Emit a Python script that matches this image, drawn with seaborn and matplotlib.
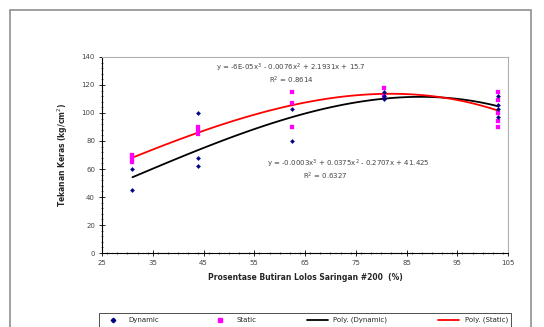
import matplotlib
matplotlib.use("Agg")
import matplotlib.pyplot as plt
from matplotlib.lines import Line2D
from matplotlib.patches import Rectangle
from matplotlib.ticker import MultipleLocator
import seaborn as sns
import pandas as pd

# data
dyn_x = [31, 31, 44, 44, 44, 62.5, 62.5, 80.5, 80.5, 80.5, 103, 103, 103, 103]
dyn_y = [60, 45, 100, 68, 62, 103, 80, 115, 112, 110, 112, 106, 103, 97]
sta_x = [31, 31, 31, 44, 44, 44, 62.5, 62.5, 62.5, 80.5, 80.5, 103, 103, 103, 103, 103]
sta_y = [70, 68, 65, 90, 87, 85, 115, 107, 90, 118, 112, 115, 109, 100, 94, 90]

x_ticks = [25, 35, 45, 55, 65, 75, 85, 95, 105]
y_ticks = [0, 20, 40, 60, 80, 100, 120, 140]

eq_static = "y = -6E-05x$^3$ - 0.0076x$^2$ + 2.1931x + 15.7"
r2_static = "R$^2$ = 0.8614"
eq_dynamic = "y = -0.0003x$^3$ + 0.0375x$^2$ - 0.2707x + 41.425"
r2_dynamic = "R$^2$ = 0.6327"

dyn = pd.DataFrame({"x": dyn_x, "y": dyn_y})
sta = pd.DataFrame({"x": sta_x, "y": sta_y})

sns.set_style("white")
plt.rcParams["font.family"] = ["DejaVu Sans"]

fig = plt.figure(figsize=(5.44, 3.27), dpi=100)
ax = fig.add_axes([0.1875, 0.226, 0.7465, 0.6])

# outer chart border
fig.patches.append(Rectangle((10 / 544, -0.05), 521 / 544, 1.05 - 10 / 327,
                             transform=fig.transFigure, fill=False,
                             edgecolor="#909090", linewidth=1.2))

sns.regplot(data=dyn, x="x", y="y", order=3, ci=None, scatter=False, ax=ax,
            line_kws={"color": "black", "linewidth": 1.3})
sns.regplot(data=sta, x="x", y="y", order=3, ci=None, scatter=False, ax=ax,
            line_kws={"color": "red", "linewidth": 1.3})
sns.scatterplot(data=dyn, x="x", y="y", ax=ax, marker="D", color="#000080",
                s=5, edgecolor="#000080", zorder=4)
sns.scatterplot(data=sta, x="x", y="y", ax=ax, marker="s", color="#FF00FF",
                s=6, edgecolor="#FF00FF", zorder=3)

ax.set_xlim(25, 105)
ax.set_ylim(0, 140)
ax.set_xticks(x_ticks)
ax.set_yticks(y_ticks)
ax.xaxis.set_minor_locator(MultipleLocator(2))
ax.yaxis.set_minor_locator(MultipleLocator(4))
ax.tick_params(which="major", direction="inout", length=4, width=0.6,
               labelsize=5, colors="black", labelcolor="#444444", pad=3)
ax.tick_params(which="minor", direction="inout", length=2, width=0.5)
ax.tick_params(axis="x", bottom=True, which="both")
ax.tick_params(axis="y", left=True, which="both")

for side in ["left", "bottom"]:
    ax.spines[side].set_color("black")
    ax.spines[side].set_linewidth(0.8)
for side in ["top", "right"]:
    ax.spines[side].set_color("#b0b0b0")
    ax.spines[side].set_linewidth(0.8)

ax.set_xlabel("Prosentase Butiran Lolos Saringan #200  (%)", fontsize=5.5,
              fontweight="bold", labelpad=5)
ax.set_ylabel("Tekanan Keras (kg/cm$^2$)", fontsize=5.5, fontweight="bold",
              labelpad=8)

ax.text(291 / 544, 1 - 68 / 327, eq_static, transform=fig.transFigure,
        ha="center", va="center", fontsize=5, color="#444444")
ax.text(291 / 544, 1 - 80 / 327, r2_static, transform=fig.transFigure,
        ha="center", va="center", fontsize=5, color="#444444")
ax.text(348 / 544, 1 - 164 / 327, eq_dynamic, transform=fig.transFigure,
        ha="center", va="center", fontsize=5, color="#444444")
ax.text(325 / 544, 1 - 176 / 327, r2_dynamic, transform=fig.transFigure,
        ha="center", va="center", fontsize=5, color="#444444")

handles = [
    Line2D([], [], marker="D", color="#000080", linestyle="none", markersize=2.3),
    Line2D([], [], marker="s", color="#FF00FF", linestyle="none", markersize=2.3),
    Line2D([], [], color="black", linewidth=1.3),
    Line2D([], [], color="red", linewidth=1.3),
]
labels = ["Dynamic", "Static", "Poly. (Dynamic)", "Poly. (Static)"]
leg = fig.legend(handles, labels, loc="upper center", ncol=4,
                 bbox_to_anchor=(305 / 544, 1 - 310 / 327), fontsize=5,
                 frameon=True, fancybox=False, columnspacing=7.3,
                 handlelength=3, borderpad=0.5)
leg.get_frame().set_edgecolor("black")
leg.get_frame().set_linewidth(0.6)

fig.savefig("out.png", dpi=100)
